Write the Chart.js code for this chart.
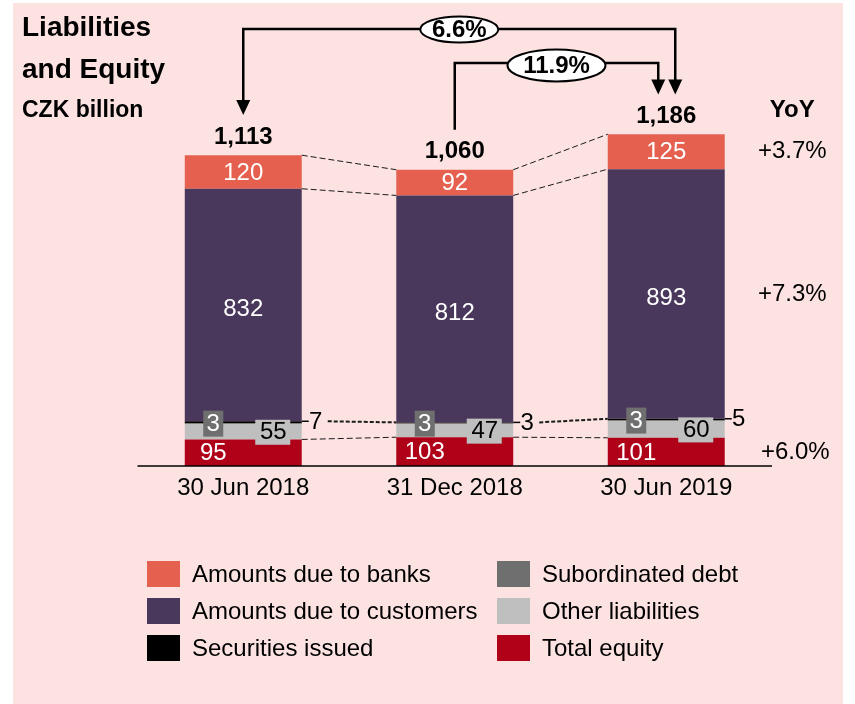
<!DOCTYPE html>
<html>
<head>
<meta charset="utf-8">
<script src="https://cdn.jsdelivr.net/npm/chart.js@4"></script>
<style>
  body { margin: 0; background: #fff; }
  #wrap { width: 855px; height: 704px; }
</style>
</head>
<body>
<div id="wrap"><canvas id="liabChart" width="855" height="704"></canvas></div>
<script>
// Daten (CZK billion)
const categories = ['30 Jun 2018', '31 Dec 2018', '30 Jun 2019'];
const totalEquity = [95, 103, 101];
const otherLiabilities = [55, 47, 60];
const subordinatedDebt = [3, 3, 3];
const securitiesIssued = [7, 3, 5];
const dueToCustomers = [832, 812, 893];
const dueToBanks = [120, 92, 125];
const totals = [1113, 1060, 1186];
const yoyLabels = ['+3.7%', '+7.3%', '+6.0%'];   // banks, customers, equity
const growth = [{ from: 0, to: 2, label: '6.6%' }, { from: 1, to: 2, label: '11.9%' }];

const FONT = 'Arial, "Liberation Sans", sans-serif';
const FS = 24;
const colors = {
  banks: '#E5604F',
  customers: '#4A385C',
  securities: '#000000',
  subdebt: '#6F6F6F',
  other: '#BFBFBF',
  equity: '#AF0219'
};

// Datasets bottom -> top
const datasets = [
  { label: 'Total equity', data: totalEquity, backgroundColor: colors.equity },
  { label: 'Other liabilities', data: otherLiabilities, backgroundColor: colors.other },
  { label: 'Subordinated debt', data: subordinatedDebt, backgroundColor: colors.subdebt },
  { label: 'Securities issued', data: securitiesIssued, backgroundColor: colors.securities },
  { label: 'Amounts due to customers', data: dueToCustomers, backgroundColor: colors.customers },
  { label: 'Amounts due to banks', data: dueToBanks, backgroundColor: colors.banks }
];
datasets.forEach(d => { d.stack = 's'; d.barPercentage = 0.553; d.categoryPercentage = 1; d.borderWidth = 0; });

// legend order (column by column)
const legendOrder = ['Amounts due to banks', 'Amounts due to customers', 'Securities issued',
  'Subordinated debt', 'Other liabilities', 'Total equity'];

function cumTop(i, upto) {
  // sum of datasets 0..upto for category i
  let s = 0;
  for (let k = 0; k <= upto; k++) s += datasets[k].data[i];
  return s;
}

function text(ctx, str, x, y, size, weight, color, align, base) {
  ctx.font = (weight || '') + ' ' + size + 'px ' + FONT;
  ctx.fillStyle = color || '#000';
  ctx.textAlign = align || 'center';
  ctx.textBaseline = base || 'middle';
  ctx.fillText(str, x, y);
}

function dashed(ctx, x1, y1, x2, y2, w, dash) {
  ctx.save();
  ctx.strokeStyle = '#1a1a1a';
  ctx.lineWidth = w;
  ctx.setLineDash(dash);
  ctx.beginPath();
  ctx.moveTo(x1, y1);
  ctx.lineTo(x2, y2);
  ctx.stroke();
  ctx.restore();
}

function arrowHead(ctx, x, tipY) {
  ctx.beginPath();
  ctx.moveTo(x - 7, tipY - 15);
  ctx.lineTo(x + 7, tipY - 15);
  ctx.lineTo(x, tipY);
  ctx.closePath();
  ctx.fill();
}

const panelPlugin = {
  id: 'panel',
  beforeDraw(chart) {
    const ctx = chart.ctx;
    ctx.save();
    ctx.fillStyle = '#FCE3E2';
    ctx.fillRect(13, 3, 830, 701);
    ctx.restore();
  }
};

const annotPlugin = {
  id: 'annot',
  afterDatasetsDraw(chart) {
    const ctx = chart.ctx;
    const x = chart.scales.x, y = chart.scales.y;
    const area = chart.chartArea;
    const meta0 = chart.getDatasetMeta(0);
    const barW = meta0.data[0].width;
    ctx.save();

    // titel
    text(ctx, 'Liabilities', 22, 36, 28, 'bold', '#000', 'left', 'alphabetic');
    text(ctx, 'and Equity', 22, 78, 28, 'bold', '#000', 'left', 'alphabetic');
    text(ctx, 'CZK billion', 22, 117, 23, 'bold', '#000', 'left', 'alphabetic');

    // baseline
    ctx.strokeStyle = '#000';
    ctx.lineWidth = 1.5;
    ctx.beginPath();
    ctx.moveTo(area.left, y.getPixelForValue(0));
    ctx.lineTo(area.right, y.getPixelForValue(0));
    ctx.stroke();

    // connectors between bars
    for (let i = 0; i < categories.length - 1; i++) {
      const r = x.getPixelForValue(i) + barW / 2;
      const l = x.getPixelForValue(i + 1) - barW / 2;
      dashed(ctx, r, y.getPixelForValue(cumTop(i, 5)), l, y.getPixelForValue(cumTop(i + 1, 5)), 1, [6, 3]);
      dashed(ctx, r, y.getPixelForValue(cumTop(i, 4)), l, y.getPixelForValue(cumTop(i + 1, 4)), 1, [6, 3]);
      dashed(ctx, r, y.getPixelForValue(cumTop(i, 0)), l, y.getPixelForValue(cumTop(i + 1, 0)), 1, [6, 3]);
      dashed(ctx, r + 26, y.getPixelForValue(cumTop(i, 3)), l, y.getPixelForValue(cumTop(i + 1, 3)), 2, [4, 2]);
    }

    categories.forEach((c, i) => {
      const cx = x.getPixelForValue(i);
      const right = cx + barW / 2;
      // segment labels
      text(ctx, String(dueToBanks[i]), cx, y.getPixelForValue(cumTop(i, 4) + dueToBanks[i] / 2) + 1, FS, '', '#fff');
      text(ctx, String(dueToCustomers[i]), cx, y.getPixelForValue(cumTop(i, 3) + dueToCustomers[i] / 2) + 4, FS, '', '#fff');
      text(ctx, String(totalEquity[i]), cx - 30, y.getPixelForValue(totalEquity[i] / 2) + 1, FS, '', '#fff');

      // subordinated debt box
      const sy = y.getPixelForValue(cumTop(i, 1) + subordinatedDebt[i] / 2);
      ctx.fillStyle = colors.subdebt;
      ctx.fillRect(cx - 40, sy - 13, 20, 26);
      text(ctx, String(subordinatedDebt[i]), cx - 30, sy + 1, FS, '', '#fff');

      // other liabilities box
      const oy = y.getPixelForValue(totalEquity[i] + otherLiabilities[i] / 2);
      ctx.fillStyle = colors.other;
      ctx.fillRect(cx + 12, oy - 12, 35, 25);
      text(ctx, String(otherLiabilities[i]), cx + 30, oy + 1, FS, '', '#000');

      // securities issued, beside the bar
      const secY = y.getPixelForValue(cumTop(i, 3));
      ctx.strokeStyle = '#000';
      ctx.lineWidth = 1.5;
      ctx.setLineDash([]);
      ctx.beginPath();
      ctx.moveTo(right, secY);
      ctx.lineTo(right + 7, secY);
      ctx.stroke();
      text(ctx, String(securitiesIssued[i]), right + 14, secY + 1, FS, '', '#000');

      // totals
      text(ctx, totals[i].toLocaleString('en-US'), cx, y.getPixelForValue(totals[i]) - 18, FS, 'bold', '#000');

      // category label
      text(ctx, c, cx, 488, FS, '', '#000');
    });

    // YoY column
    const last = categories.length - 1;
    const yx = x.getPixelForValue(last) + 126;
    text(ctx, 'YoY', yx, 110, FS, 'bold', '#000');
    text(ctx, yoyLabels[0], yx, y.getPixelForValue(cumTop(last, 4) + dueToBanks[last] / 2), FS, '', '#000');
    text(ctx, yoyLabels[1], yx, y.getPixelForValue(cumTop(last, 3) + dueToCustomers[last] / 2), FS, '', '#000');
    text(ctx, yoyLabels[2], yx + 3, y.getPixelForValue(totalEquity[last] / 2), FS, '', '#000');

    // growth arrows
    const lineY = [29, 63];
    const endOff = [9, -8];
    ctx.strokeStyle = '#000';
    ctx.fillStyle = '#000';
    ctx.lineWidth = 2.5;
    growth.forEach((g, k) => {
      const x1 = x.getPixelForValue(g.from);
      const x2 = x.getPixelForValue(g.to) + endOff[k];
      const y1 = y.getPixelForValue(totals[g.from]) - 40;
      const y2 = y.getPixelForValue(totals[g.to]) - 40;
      ctx.beginPath();
      if (k === 0) {
        ctx.moveTo(x1, y1 - 14);
      } else {
        ctx.moveTo(x1, y1);
      }
      ctx.lineTo(x1, lineY[k]);
      ctx.lineTo(x2, lineY[k]);
      ctx.lineTo(x2, y2 - 14);
      ctx.stroke();
      if (k === 0) arrowHead(ctx, x1, y1);
      arrowHead(ctx, x2, y2);

      // oval
      const ox = (x1 + x2) / 2;
      const rx = k === 0 ? 39 : 49;
      const ry = k === 0 ? 13 : 16;
      const oy = lineY[k] + (k === 0 ? 0.5 : 2.5);
      ctx.beginPath();
      ctx.ellipse(ox, oy, rx, ry, 0, 0, Math.PI * 2);
      ctx.fillStyle = '#fff';
      ctx.fill();
      ctx.lineWidth = 2;
      ctx.stroke();
      ctx.lineWidth = 2.5;
      text(ctx, g.label, ox, oy + 1, FS, 'bold', '#000');
      ctx.fillStyle = '#000';
    });

    // legende, two columns
    legendOrder.forEach((name, n) => {
      const ds = datasets.find(d => d.label === name);
      const col = Math.floor(n / 3), row = n % 3;
      const lx = col === 0 ? 147 : 497;
      const ly = 561 + row * 37;
      ctx.fillStyle = ds.backgroundColor;
      ctx.fillRect(lx, ly, 33, 26);
      text(ctx, name, lx + 45, ly + 14, FS, '', '#000', 'left');
    });

    ctx.restore();
  }
};

const chart = new Chart(document.getElementById('liabChart').getContext('2d'), {
  type: 'bar',
  data: { labels: categories, datasets: datasets },
  options: {
    responsive: false,
    devicePixelRatio: 1,
    animation: false,
    layout: { padding: { left: 137.5, right: 83, top: 130.6, bottom: 238 } },
    scales: {
      x: { stacked: true, display: false },
      y: { stacked: true, display: false, min: 0, max: 1200 }
    },
    plugins: { legend: { display: false }, tooltip: { enabled: false } }
  },
  plugins: [panelPlugin, annotPlugin]
});
</script>
</body>
</html>
